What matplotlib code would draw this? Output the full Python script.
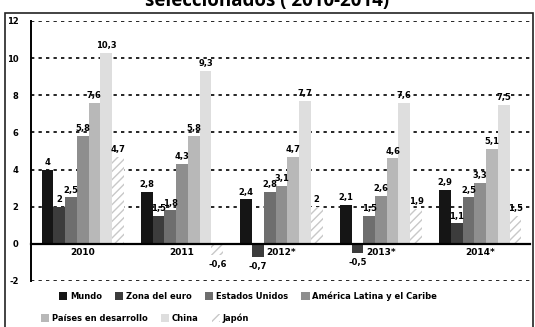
import matplotlib.pyplot as plt
from matplotlib.patches import Rectangle
import numpy as np

years = ["2010", "2011", "2012*", "2013*", "2014*"]
series = ["Mundo", "Zona del euro", "Estados Unidos",
          "América Latina y el Caribe", "Países en desarrollo", "China", "Japón"]

mundo = [4.0, 2.8, 2.4, 2.1, 2.9]
zona_euro = [2.0, 1.5, -0.7, -0.5, 1.1]
eeuu = [2.5, 1.8, 2.8, 1.5, 2.5]
america_latina = [5.8, 4.3, 3.1, 2.6, 3.3]
paises_desarrollo = [7.6, 5.8, 4.7, 4.6, 5.1]
china = [10.3, 9.3, 7.7, 7.6, 7.5]
japon = [4.7, -0.6, 2.0, 1.9, 1.5]

values = [mundo, zona_euro, eeuu, america_latina, paises_desarrollo, china, japon]
colors = ["#151515", "#3c3c3c", "#6e6e6e", "#8e8e8e", "#b8b8b8", "#dedede", "white"]

plt.rcParams["font.family"] = ["Liberation Sans Narrow", "DejaVu Sans"]
plt.rcParams["hatch.linewidth"] = 1.0

fig = plt.figure(figsize=(5.35, 3.27), dpi=100)

# outer frame and the cropped title
fig.patches.append(Rectangle((5 / 535, -0.01), 528 / 535, 1 - 13 / 327 + 0.01,
                             transform=fig.transFigure, fill=False,
                             edgecolor="#222222", linewidth=1.2))
fig.text(0.5, 0.982, "seleccionados ( 2010-2014)", ha="center", va="baseline",
         fontsize=13.5, fontweight="bold", family=["Open Sans", "DejaVu Sans"])

ax = fig.add_axes([31 / 535, 1 - 281 / 327, 499 / 535, 260 / 327])

x = np.arange(len(years))
w = 0.118
for k, (name, vals, col) in enumerate(zip(series, values, colors)):
    pos = x + (k - 3) * w
    if name == "Japón":
        ax.bar(pos, vals, w, color=col, edgecolor="#c8c8c8", linewidth=0,
               hatch="////", label=name, zorder=2)
    else:
        ax.bar(pos, vals, w, color=col, linewidth=0, label=name, zorder=2)
    for px, v in zip(pos, vals):
        txt = ("%g" % v).replace(".", ",")
        if v >= 0:
            ax.text(px, v + 0.15, txt, ha="center", va="bottom",
                    fontsize=6, fontweight="bold")
        else:
            ax.text(px, v - 0.25, txt, ha="center", va="top",
                    fontsize=6, fontweight="bold")

ax.set_xlim(-0.52, 4.5)
ax.set_ylim(-2, 12)
for yv in [-2, 2, 4, 6, 8, 10, 12]:
    ax.axhline(yv, color="black", linestyle=(0, (2, 2.5)), linewidth=1.2, zorder=1)

ax.spines["top"].set_visible(False)
ax.spines["right"].set_visible(False)
ax.spines["left"].set_linewidth(1.4)
ax.spines["bottom"].set_position(("data", 0))
ax.spines["bottom"].set_linewidth(1.6)
ax.spines["bottom"].set_zorder(3)

ax.set_xticks(x)
ax.set_xticklabels(years, fontsize=6.5, fontweight="bold")
ax.set_yticks([-2, 0, 2, 4, 6, 8, 10, 12])
ax.set_yticklabels(["-2", "0", "2", "4", "6", "8", "10", "12"],
                   fontsize=6, fontweight="bold")
ax.tick_params(axis="both", length=0, pad=3)
ax.tick_params(axis="y", pad=9)

handles, labels = ax.get_legend_handles_labels()
fig.legend(handles[:4], labels[:4], loc="center", ncol=4,
           bbox_to_anchor=(248 / 535, 1 - 296 / 327), frameon=False,
           prop={"size": 6, "weight": "bold"}, handlelength=1.0,
           handleheight=1.0, handletextpad=0.3, columnspacing=1.6)
fig.legend(handles[4:], labels[4:], loc="center", ncol=3,
           bbox_to_anchor=(145 / 535, 1 - 318 / 327), frameon=False,
           prop={"size": 6, "weight": "bold"}, handlelength=1.0,
           handleheight=1.0, handletextpad=0.3, columnspacing=1.6)

fig.savefig("out.png", dpi=100)
